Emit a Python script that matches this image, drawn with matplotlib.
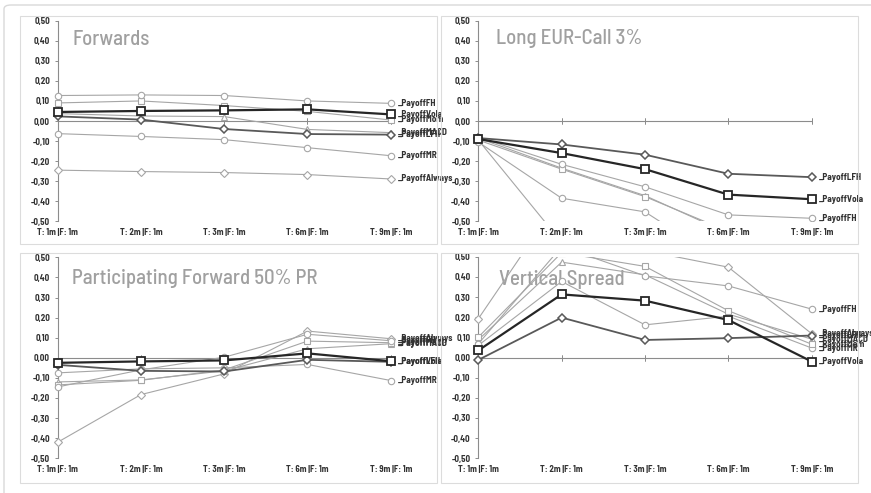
import matplotlib
matplotlib.use("Agg")
import matplotlib.pyplot as plt
from matplotlib.patches import Rectangle, FancyBboxPatch

# ---------------- data ----------------
categories = ["T: 1m |F: 1m", "T: 2m |F: 1m", "T: 3m |F: 1m", "T: 6m |F: 1m", "T: 9m |F: 1m"]
y_ticks = [0.5, 0.4, 0.3, 0.2, 0.1, 0.0, -0.1, -0.2, -0.3, -0.4, -0.5]
y_tick_labels = ["0,50", "0,40", "0,30", "0,20", "0,10", "0,00", "-0,10", "-0,20", "-0,30", "-0,40", "-0,50"]

panel_titles = ["Forwards", "Long EUR-Call 3%", "Participating Forward 50% PR", "Vertical Spread"]
series_names = ["_PayoffAlways", "_PayoffMR", "_PayoffMACD", "_PayoffMom", "_PayoffFH", "_PayoffLFH", "_PayoffVola"]

forwards = {
    "_PayoffAlways": [-0.245, -0.252, -0.257, -0.267, -0.289],
    "_PayoffMR":     [-0.063, -0.077, -0.093, -0.133, -0.173],
    "_PayoffMACD":   [0.037, 0.025, 0.022, -0.042, -0.058],
    "_PayoffMom":    [0.090, 0.100, 0.077, 0.048, 0.005],
    "_PayoffFH":     [0.127, 0.130, 0.127, 0.100, 0.088],
    "_PayoffLFH":    [0.023, 0.007, -0.040, -0.065, -0.068],
    "_PayoffVola":   [0.045, 0.050, 0.053, 0.058, 0.033],
}
long_call = {
    "_PayoffAlways": [-0.095, -0.605, -0.650, -0.700, -0.720],
    "_PayoffMR":     [-0.105, -0.385, -0.453, -0.720, -0.750],
    "_PayoffMACD":   [-0.085, -0.235, -0.372, -0.560, -0.620],
    "_PayoffMom":    [-0.095, -0.240, -0.377, -0.550, -0.600],
    "_PayoffFH":     [-0.080, -0.216, -0.328, -0.468, -0.485],
    "_PayoffLFH":    [-0.085, -0.117, -0.168, -0.263, -0.280],
    "_PayoffVola":   [-0.090, -0.160, -0.240, -0.367, -0.390],
}
participating = {
    "_PayoffAlways": [-0.420, -0.183, -0.080, 0.133, 0.095],
    "_PayoffMR":     [-0.075, -0.055, -0.050, -0.033, -0.113],
    "_PayoffMACD":   [-0.120, -0.110, -0.065, 0.045, 0.070],
    "_PayoffMom":    [-0.135, -0.112, -0.060, 0.083, 0.075],
    "_PayoffFH":     [-0.145, -0.060, 0.003, 0.117, 0.085],
    "_PayoffLFH":    [-0.035, -0.065, -0.068, -0.010, -0.020],
    "_PayoffVola":   [-0.025, -0.018, -0.013, 0.022, -0.017],
}
vertical_spread = {
    "_PayoffAlways": [0.192, 0.800, 0.530, 0.448, 0.118],
    "_PayoffMR":     [0.060, 0.377, 0.162, 0.205, 0.047],
    "_PayoffMACD":   [0.088, 0.473, 0.410, 0.215, 0.091],
    "_PayoffMom":    [0.101, 0.520, 0.452, 0.232, 0.066],
    "_PayoffFH":     [0.068, 0.550, 0.405, 0.355, 0.240],
    "_PayoffLFH":    [-0.012, 0.198, 0.087, 0.096, 0.109],
    "_PayoffVola":   [0.035, 0.313, 0.282, 0.186, -0.020],
}
panels_data = [forwards, long_call, participating, vertical_spread]

# ---------------- style ----------------
plt.rcParams["font.family"] = ["Barlow Semi Condensed", "Barlow Condensed", "DejaVu Sans"]

LIGHT = "#a6a6a6"
TXT = "#333333"
styles = {
    "_PayoffAlways": dict(color=LIGHT, lw=0.8, marker="D", ms=3.6, mew=0.8, z=3),
    "_PayoffMR":     dict(color=LIGHT, lw=0.8, marker="o", ms=4.6, mew=0.8, z=3),
    "_PayoffMACD":   dict(color=LIGHT, lw=0.8, marker="^", ms=4.8, mew=0.8, z=3),
    "_PayoffMom":    dict(color=LIGHT, lw=0.8, marker="s", ms=4.4, mew=0.8, z=3),
    "_PayoffFH":     dict(color=LIGHT, lw=0.8, marker="o", ms=4.6, mew=0.8, z=3),
    "_PayoffLFH":    dict(color="#595959", lw=1.3, marker="D", ms=3.8, mew=1.1, z=4),
    "_PayoffVola":   dict(color="#262626", lw=1.6, marker="s", ms=5.2, mew=1.3, z=5),
}

W, H = 871, 493
fig = plt.figure(figsize=(W / 100, H / 100), dpi=100)

def fx(px):
    return px / W

def fy(py):
    return 1 - py / H

# outer frame and panel frames (pixel layout)
fig.patches.append(FancyBboxPatch((fx(4), fy(497)), fx(880), 492 / H, boxstyle="round,pad=0,rounding_size=0.008",
                                  transform=fig.transFigure, fill=False, ec="#d9d9d9", lw=1.0))
frames = [(20, 15.5, 437, 244), (441, 15.5, 858, 244), (20, 253, 437, 482.5), (441, 253, 858, 482.5)]
for (x0, y0, x1, y1) in frames:
    fig.patches.append(Rectangle((fx(x0), fy(y1)), fx(x1 - x0), (y1 - y0) / H, transform=fig.transFigure,
                                 fill=False, ec="#dcdcdc", lw=0.8))

axes_px = [(57.7, 20.7, 390.7, 221.3), (478.3, 20.7, 811.7, 221.3),
           (57.7, 257.3, 390.7, 458.3), (478.3, 256.7, 811.7, 458.3)]
title_px = [(15.0, 24.3), (17.7, 23.6), (14.3, 27.0), (20.7, 28.3)]

x = list(range(len(categories)))
for i, (x0, y0, x1, y1) in enumerate(axes_px):
    ax = fig.add_axes([fx(x0), fy(y1), fx(x1 - x0), (y1 - y0) / H])
    ax.set_xlim(0, len(categories) - 1)
    ax.set_ylim(-0.5, 0.5)
    ax.patch.set_alpha(0)
    for s in ("top", "right", "bottom"):
        ax.spines[s].set_visible(False)
    ax.spines["left"].set_color("#8c8c8c")
    ax.spines["left"].set_linewidth(0.8)
    ax.set_yticks(y_ticks)
    ax.set_yticklabels(y_tick_labels)
    ax.tick_params(axis="y", length=2.5, width=0.7, color="#8c8c8c", pad=3, labelsize=6.4,
                   labelcolor=TXT)
    ax.set_xticks(x)
    ax.set_xticklabels(categories)
    ax.tick_params(axis="x", length=0, pad=4.5, labelsize=6.4, labelcolor=TXT)
    for lab in ax.get_xticklabels() + ax.get_yticklabels():
        lab.set_fontweight("bold")

    # horizontal axis line at zero with cross tick marks
    ax.axhline(0, color="#8c8c8c", lw=0.8, zorder=2)
    for xi in x:
        ax.plot([xi, xi], [0, 0], marker="|", ms=4, mew=0.7, color="#8c8c8c", zorder=2)

    # title
    tx, ty = title_px[i]
    ax.text(tx / (x1 - x0), 1 - ty / (y1 - y0), panel_titles[i], transform=ax.transAxes,
            fontsize=15, color="#a0a0a0", fontweight="medium", ha="left", va="baseline", zorder=1)

    clip = Rectangle((-0.04, 0), 1.08, 1, transform=ax.transAxes, fill=False, visible=False)
    ax.add_patch(clip)
    data = panels_data[i]
    for name in series_names:
        st = styles[name]
        vals = data[name]
        ln, = ax.plot(x, vals, color=st["color"], lw=st["lw"], marker=st["marker"], ms=st["ms"],
                      mfc="white", mec=st["color"], mew=st["mew"], zorder=st["z"], clip_on=True)
        ln.set_clip_path(clip)
        last = vals[-1]
        if -0.5 <= last <= 0.5:
            ax.annotate(name, xy=(x[-1], last), xytext=(5.5, 0), textcoords="offset points",
                        fontsize=6.6, fontweight="bold", color=TXT, va="center", ha="left",
                        annotation_clip=False, zorder=6)

fig.savefig("out.png", dpi=100)
